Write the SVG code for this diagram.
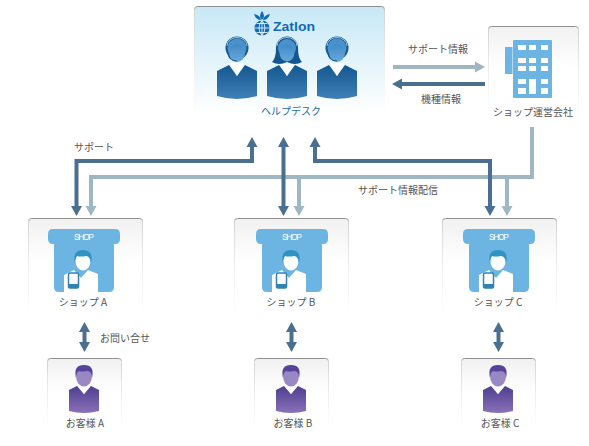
<svg xmlns="http://www.w3.org/2000/svg" width="589" height="446" viewBox="0 0 589 446">
<style>
text{font-family:"Noto Sans CJK JP","Liberation Sans",sans-serif;font-size:10px;fill:#555;text-anchor:middle}
.dk{stroke:#4a6f8f;stroke-width:4;fill:none}
.lt{stroke:#9fb6c3;stroke-width:4;fill:none}
.dh{fill:#4a6f8f}.lh{fill:#9fb6c3}
.w{fill:#fff}
</style>
<defs>
<linearGradient id="gb" x1="0" y1="0" x2="0" y2="1"><stop offset="0" stop-color="#c7e8f6"/><stop offset=".95" stop-color="#fff"/></linearGradient>
<linearGradient id="gg" x1="0" y1="0" x2="0" y2="1"><stop offset="0" stop-color="#f1f1f1"/><stop offset=".45" stop-color="#fff"/></linearGradient>
<linearGradient id="sg" x1="0" y1="0" x2="0" y2="1"><stop offset="0" stop-color="#8f8f8f"/><stop offset=".04" stop-color="#d4d4d4"/><stop offset=".5" stop-color="#efefef"/><stop offset="1" stop-color="#fff"/></linearGradient>
<linearGradient id="body" x1="0" y1="0" x2="0" y2="1"><stop offset="0" stop-color="#14578f"/><stop offset="1" stop-color="#417fb8"/></linearGradient>
<linearGradient id="head" x1="0" y1="0" x2="0" y2="1"><stop offset="0" stop-color="#3f8ac6"/><stop offset="1" stop-color="#69a9dc"/></linearGradient>
<linearGradient id="pb" x1="0" y1="0" x2="0" y2="1"><stop offset="0" stop-color="#4f3f8f"/><stop offset="1" stop-color="#8a70b8"/></linearGradient>
<g id="torso">
<path d="M-20 35L-8 29L0 40L8 29L20 35V60Q0 66-20 60Z" fill="url(#body)"/>
<path d="M-7 27L0 40L7 27Z" class="w"/>
</g>
<g id="agent">
<use href="#torso"/>
<circle cx="0" cy="12" r="11.500" fill="#14578f"/>
<ellipse cx="0" cy="12" rx="9.500" ry="9.500" fill="#4a92cc"/>
<path d="M-10 10A10 8.500 0 0 1 10 10" fill="none" stroke="#9cc5e6" stroke-width="1"/>
<ellipse cx="0" cy="17" rx="8" ry="9" fill="url(#head)"/>
<path d="M-9 17Q-8 25 0 25" fill="none" stroke="#14578f" stroke-width="1.200"/>
</g>
<g id="shop">
<path d="M20 11H87Q92 11 92 16V21Q92 26 87 26H86V69Q86 74 81 74H31Q26 74 26 69V26H25Q20 26 20 21V16Q20 11 25 11Z" fill="#6cb5e2"/>
<text x="56" y="22" textLength="20" style="font-family:'Liberation Sans',sans-serif;font-size:8.500px;fill:#fff">SHOP</text>
<path d="M36 74V57L46 52L53 60L60 52L70 56V74Z" class="w"/>
<ellipse cx="55" cy="43" rx="7.500" ry="9.500" class="w"/>
<path d="M47 45Q44 32 55 32Q66 32 63 45Q62 38 58 38Q52 39 49 38Q47 40 47 45Z" fill="#2f93c4"/>
<rect x="40.500" y="55" width="10" height="15" rx="1.500" fill="#fff" stroke="#2f84b5" stroke-width="1.500"/>
<rect x="40" y="66" width="11" height="4" fill="#2f84b5"/>
</g>
<g id="cust">
<path d="M-15 29L-7 25L0 33L7 25L15 29V50Q0 54-15 50Z" fill="url(#pb)"/>
<path d="M-6 25L0 33L6 25Z" class="w"/>
<ellipse cx="0" cy="15" rx="8" ry="10.500" fill="#9a88c4"/>
<path d="M-8 17Q-11 4 0 4Q11 4 8 17Q8 10 3 10Q-2 11-5 10Q-8 12-8 17Z" fill="#56449a"/>
</g>
<g id="box-s"><rect x=".5" y=".5" width="114" height="98" rx="3" fill="url(#gg)" stroke="url(#sg)"/></g>
<g id="box-c"><rect x=".5" y=".5" width="74" height="72" rx="3" fill="url(#gg)" stroke="url(#sg)"/></g>
</defs>
<rect width="589" height="446" fill="#fff"/>
<g id="helpdesk">
<rect x="194.500" y="6.500" width="190" height="113" rx="3" fill="url(#gb)" stroke="url(#sg)"/>
<circle cx="262" cy="28" r="7.500" fill="#0f6bb5"/>
<path d="M254.500 28H269.500M262 20.500V35.500M256.500 23.500H267.500M256.500 32.500H267.500M262 20.500Q256 28 262 35.500M262 20.500Q268 28 262 35.500" stroke="#fff" stroke-width=".8" fill="none"/>
<path d="M262 20Q258 16 262 11Q266 16 262 20ZM261 20Q256 20 254 14Q260 15 261 20ZM263 20Q268 20 270 14Q264 15 263 20Z" fill="#0f6bb5"/>
<text x="294" y="31" textLength="42" lengthAdjust="spacingAndGlyphs" style="font-family:'Liberation Sans',sans-serif;font-size:12px;font-weight:bold;fill:#0f6bb5">Zatlon</text>
<use href="#agent" x="237" y="36"/>
<g transform="translate(287 36)">
<use href="#torso"/>
<path d="M-11 12A11 11.500 0 0 1 11 12Q11 22 15 26Q8 30 0 26Q-8 30-15 26Q-11 22-11 12Z" fill="#14578f"/>
<ellipse cx="0" cy="12" rx="9" ry="9" fill="#4a92cc"/>
<path d="M-10 10A10 8.500 0 0 1 10 10" fill="none" stroke="#9cc5e6" stroke-width="1"/>
<ellipse cx="0" cy="17" rx="7.500" ry="8.500" fill="url(#head)"/>
</g>
<use href="#agent" x="337" y="36"/>
<text x="291" y="115" style="fill:#1c6aa8">ヘルプデスク</text>
</g>
<g id="company">
<rect x="488.500" y="26.500" width="90" height="93" rx="3" fill="url(#gg)" stroke="url(#sg)"/>
<rect x="505" y="47" width="7.500" height="27" fill="#6cb5e2"/>
<rect x="513" y="40" width="39" height="58" rx="1" fill="#6cb5e2"/>
<g class="w">
<rect x="518" y="45" width="8" height="5"/><rect x="529" y="45" width="7" height="5"/><rect x="541" y="45" width="7" height="5"/>
<rect x="518" y="58" width="8" height="5"/><rect x="529" y="58" width="7" height="5"/><rect x="541" y="58" width="7" height="5"/>
<rect x="518" y="66" width="8" height="5"/><rect x="529" y="66" width="7" height="5"/><rect x="541" y="66" width="7" height="5"/>
<rect x="518" y="79" width="8" height="5"/><rect x="529" y="79" width="7" height="15"/><rect x="541" y="79" width="7" height="5"/>
<rect x="518" y="88" width="8" height="6"/><rect x="541" y="88" width="7" height="6"/>
</g>
<text x="533" y="116">ショップ運営会社</text>
</g>
<g id="shop-a"><use href="#box-s" x="28" y="218"/><use href="#shop" x="28" y="218"/><text x="83" y="306">ショップ A</text></g>
<g id="shop-b"><use href="#box-s" x="234" y="218"/><use href="#shop" x="236" y="218"/><text x="291" y="306">ショップ B</text></g>
<g id="shop-c"><use href="#box-s" x="442" y="218"/><use href="#shop" x="443" y="218"/><text x="498" y="306">ショップ C</text></g>
<g id="customer-a"><use href="#box-c" x="47" y="358"/><use href="#cust" x="84" y="361"/><text x="85" y="427">お客様 A</text></g>
<g id="customer-b"><use href="#box-c" x="254" y="358"/><use href="#cust" x="291" y="361"/><text x="293" y="427">お客様 B</text></g>
<g id="customer-c"><use href="#box-c" x="461" y="358"/><use href="#cust" x="498" y="361"/><text x="500" y="427">お客様 C</text></g>
<g id="connectors">
<path class="lt" d="M91 206V177H532V127"/>
<path class="lt" d="M299 177V206"/>
<path class="lt" d="M507 177V206"/>
<path class="dk" d="M76.500 206V161H252V146"/>
<path class="dk" d="M283.500 146V206"/>
<path class="dk" d="M315 146V161H490V206"/>
<path class="lt" d="M393 67H477"/>
<path class="dk" d="M485 84H401"/>
<path class="dk" d="M84.500 330V344"/>
<path class="dk" d="M291.500 330V344"/>
<path class="dk" d="M498.500 330V344"/>
<path class="dh" d="M76.500 216L71 206H82Z"/><path class="lh" d="M91 216L85.500 206H96.500Z"/>
<path class="dh" d="M283.500 216L278 206H289Z"/><path class="lh" d="M299 216L293.500 206H304.500Z"/>
<path class="dh" d="M490 216L484.500 206H495.500Z"/><path class="lh" d="M507 216L501.500 206H512.500Z"/>
<path class="dh" d="M252 137L246.500 147H257.500Z"/><path class="dh" d="M283.500 137L278 147H289Z"/><path class="dh" d="M315 137L309.500 147H320.500Z"/>
<path class="lh" d="M485 67L475 61.500V72.500Z"/><path class="dh" d="M392 84L402 78.500V89.500Z"/>
<path class="dh" d="M84.500 322L79 332H90Z"/><path class="dh" d="M84.500 352L79 342H90Z"/>
<path class="dh" d="M291.500 322L286 332H297Z"/><path class="dh" d="M291.500 352L286 342H297Z"/>
<path class="dh" d="M498.500 322L493 332H504Z"/><path class="dh" d="M498.500 352L493 342H504Z"/>
</g>
<g id="labels">
<text x="438" y="53">サポート情報</text>
<text x="441" y="103">機種情報</text>
<text x="94" y="151">サポート</text>
<text x="398" y="194">サポート情報配信</text>
<text x="125" y="342">お問い合せ</text>
</g>
</svg>
